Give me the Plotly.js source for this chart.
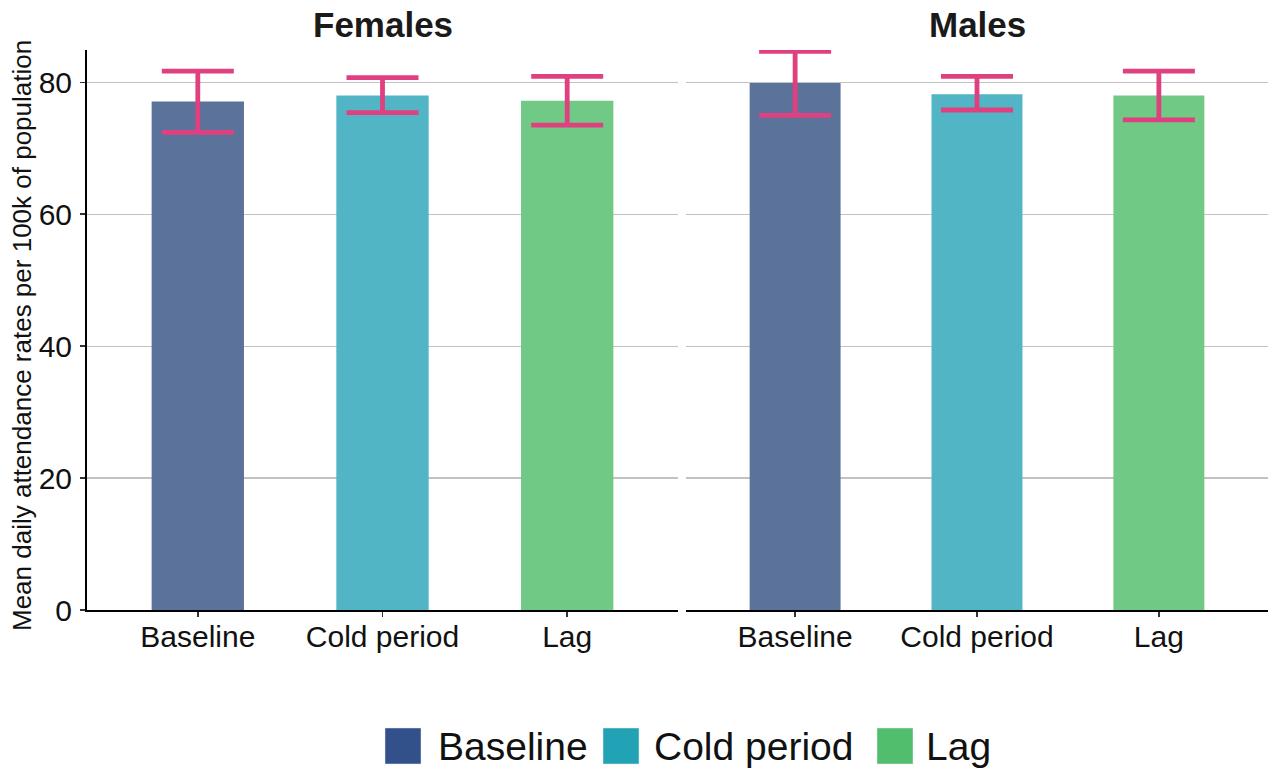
<!DOCTYPE html>
<html>
<head>
<meta charset="utf-8">
<script src="https://cdn.plot.ly/plotly-3.0.1.min.js"></script>
<style>html,body{margin:0;padding:0;background:#fff;}#chart{width:1268px;height:769px;}</style>
</head>
<body>
<div id="chart"></div>
<script>
// ---- data ----
const categories = ["Baseline", "Cold period", "Lag"];
const panels = ["Females", "Males"];
const femalesMean  = [77.1, 78.0, 77.2];
const femalesUpper = [81.7, 80.7, 80.9];
const femalesLower = [72.4, 75.4, 73.5];
const malesMean  = [79.9, 78.2, 78.0];
const malesUpper = [84.7, 80.9, 81.7];
const malesLower = [75.0, 75.8, 74.3];
const yTicks = [0, 20, 40, 60, 80];
const yTitle = "Mean daily attendance rates per 100k of population";

// ---- style ----
const barColors = ["#5b729b", "#51b5c5", "#70c985"];
const legendColors = ["#32508a", "#22a2b5", "#50be6d"];
const errColor = "#e0407f";
const FONT = "Liberation Sans, Arial, sans-serif";

function errTrace(mean, upper, lower, xa, ya) {
  return {
    type: "bar", x: categories, y: mean, xaxis: xa, yaxis: ya,
    width: 0.5, showlegend: false, hoverinfo: "skip",
    marker: {color: barColors, line: {width: 0}},
    error_y: {
      type: "data", symmetric: false,
      array: upper.map((u, i) => u - mean[i]),
      arrayminus: lower.map((l, i) => mean[i] - l),
      color: errColor, thickness: 4.8, width: 36
    }
  };
}

const data = [
  errTrace(femalesMean, femalesUpper, femalesLower, "x", "y"),
  errTrace(malesMean, malesUpper, malesLower, "x2", "y2")
];

const W = 1268, ML = 87;
const plotW = W - ML;
const d1 = [0, (678 - ML) / plotW];
const d2 = [(686 - ML) / plotW, 1];

const xCommon = {
  type: "category", range: [-0.6, 2.6],
  showline: true, linecolor: "#000", linewidth: 2,
  ticks: "outside", ticklen: 5, tickcolor: "#333", tickwidth: 1.5,
  tickfont: {family: FONT, size: 30, color: "#111"}, ticklabelstandoff: -6,
  showgrid: false, zeroline: false, fixedrange: true
};
const yCommon = {
  range: [0, 84.9], tickvals: yTicks,
  showgrid: true, gridcolor: "#c2c2c2", gridwidth: 1.2,
  zeroline: false, fixedrange: true
};

const shapes = [];
const annotations = [
  {text: "<b>" + panels[0] + "</b>", xref: "paper", yref: "paper", x: (d1[0] + d1[1]) / 2, y: 1, yshift: 26,
   xanchor: "center", yanchor: "middle", showarrow: false, font: {family: FONT, size: 35, color: "#1a1a1a"}},
  {text: "<b>" + panels[1] + "</b>", xref: "paper", yref: "paper", x: (d2[0] + d2[1]) / 2, y: 1, yshift: 26,
   xanchor: "center", yanchor: "middle", showarrow: false, font: {family: FONT, size: 35, color: "#1a1a1a"}},
  {text: yTitle, xref: "paper", yref: "paper", x: -(ML - 22) / plotW, y: 0.5, textangle: -90, yshift: -6,
   xanchor: "center", yanchor: "middle", showarrow: false, font: {family: FONT, size: 26, color: "#111"}}
];

// legend drawn as shapes + text (pixel positions converted to paper coords)
const plotH = 769 - 50 - 159;
const px2x = px => (px - ML) / plotW;
const py2y = py => (769 - 159 - py) / plotH;
const legSwatchX = [385, 603, 877];
const legTextX = [436, 652, 924];
categories.forEach((c, i) => {
  shapes.push({type: "rect", xref: "paper", yref: "paper",
    x0: px2x(legSwatchX[i]), x1: px2x(legSwatchX[i] + 36), y0: py2y(764), y1: py2y(728),
    fillcolor: legendColors[i], line: {width: 0.5, color: "#e8e8e8"}});
  annotations.push({text: c, xref: "paper", yref: "paper", x: px2x(legTextX[i]), y: py2y(746),
    xanchor: "left", yanchor: "middle", showarrow: false, font: {family: FONT, size: 39, color: "#111"}});
});

const layout = {
  width: W, height: 769,
  margin: {l: ML, r: 0, t: 50, b: 159},
  paper_bgcolor: "#fff", plot_bgcolor: "#fff",
  showlegend: false,
  bargap: 0.5,
  xaxis: Object.assign({}, xCommon, {domain: d1, anchor: "y"}),
  xaxis2: Object.assign({}, xCommon, {domain: d2, anchor: "y2"}),
  yaxis: Object.assign({}, yCommon, {domain: [0, 1], anchor: "x",
    showline: true, linecolor: "#000", linewidth: 2,
    ticks: "outside", ticklen: 5, tickcolor: "#333", tickwidth: 1.5,
    tickfont: {family: FONT, size: 30, color: "#111"}, ticklabelstandoff: 2}),
  yaxis2: Object.assign({}, yCommon, {domain: [0, 1], anchor: "x2", matches: "y",
    showline: false, showticklabels: false, ticks: ""}),
  shapes: shapes,
  annotations: annotations
};

Plotly.newPlot("chart", data, layout, {displayModeBar: false, staticPlot: true});
</script>
</body>
</html>
